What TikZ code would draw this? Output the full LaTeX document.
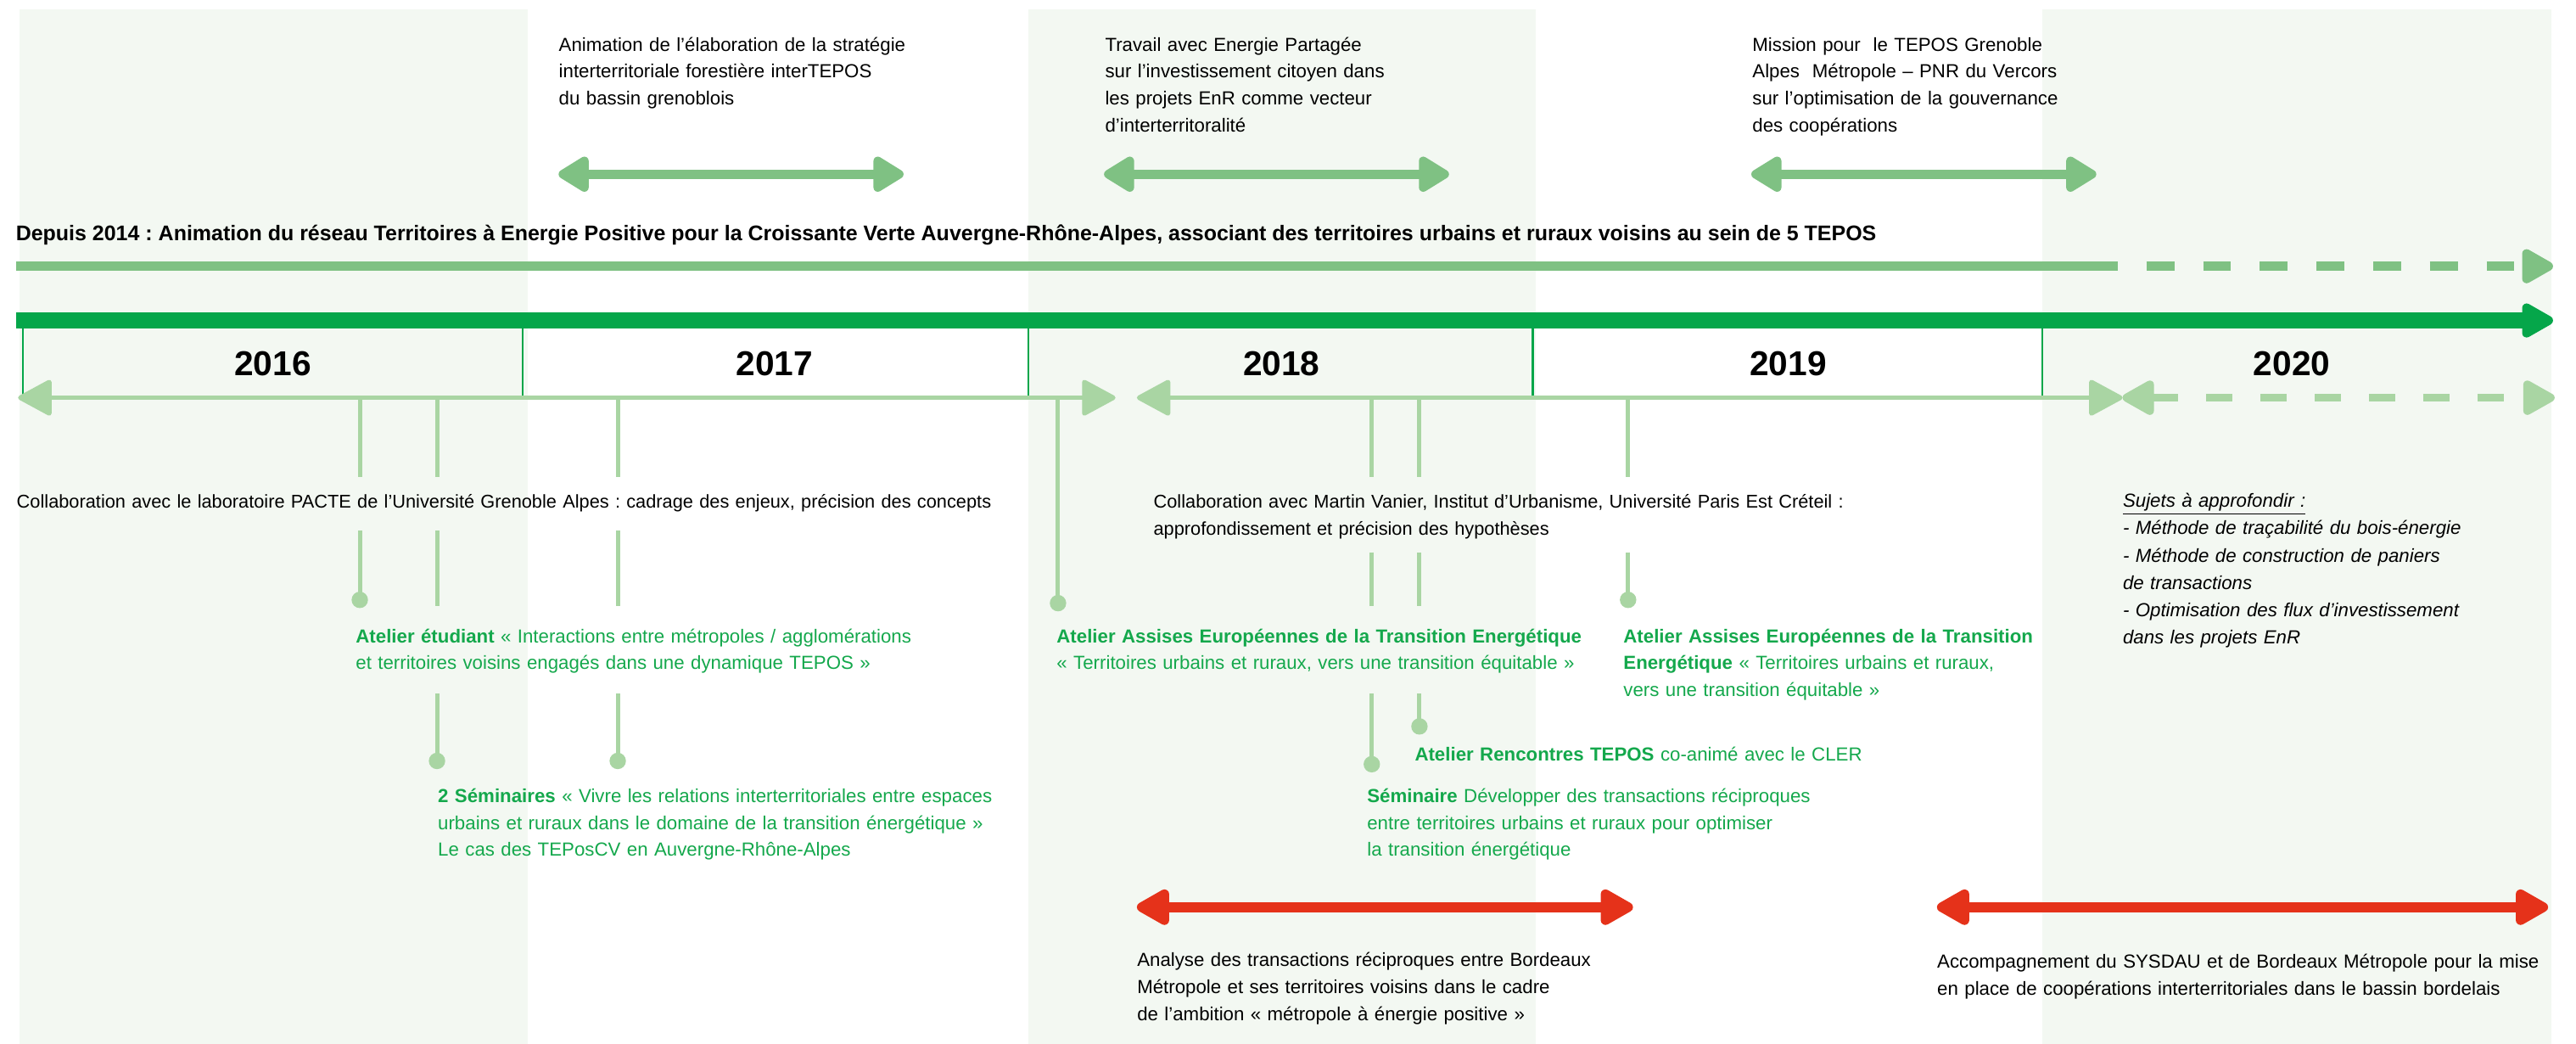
\documentclass[tikz,border=0pt]{standalone}
\usepackage{fontspec}
\setmainfont{Liberation Sans}
\usetikzlibrary{arrows.meta}
\frenchspacing
\definecolor{bgshade}{RGB}{243,248,242}
\definecolor{midgreen}{RGB}{127,193,131}
\definecolor{lightgreen}{RGB}{169,213,163}
\definecolor{bargreen}{RGB}{5,166,74}
\definecolor{txtgreen}{RGB}{20,168,76}
\definecolor{redarrow}{RGB}{229,50,26}
\tikzset{
  bodytext/.style={inner sep=0pt, anchor=base west, align=left, text width=700pt,
    font=\fontsize{11.5}{16.4}\selectfont},
  narrowtext/.style={bodytext, font=\fontsize{11.25}{16.4}\selectfont},
  greentext/.style={bodytext, text=txtgreen},
  headtext/.style={inner sep=0pt, anchor=base west, font=\fontsize{12.9}{15}\selectfont\bfseries},
  yeartext/.style={inner sep=0pt, anchor=base, font=\fontsize{21}{24}\selectfont\bfseries},
  toparrow/.style={draw=midgreen, line width=5.5pt, {Triangle[length=21pt,width=24pt,round]}-{Triangle[length=21pt,width=24pt,round]}},
  lowarrow/.style={draw=lightgreen, line width=2.8pt, {Triangle[length=22pt,width=23pt,round]}-{Triangle[length=22pt,width=23pt,round]}},
  redarrowstyle/.style={draw=redarrow, line width=6pt, {Triangle[length=23pt,width=24pt,round]}-{Triangle[length=23pt,width=24pt,round]}},
  yearsep/.style={draw=bargreen, line width=1.2pt},
  conn/.style={draw=lightgreen, line width=2.6pt},
  dotstyle/.style={fill=lightgreen}
}
\begin{document}
\begin{tikzpicture}[x=1pt,y=-1pt]
\useasboundingbox (0,0) rectangle (1568,635);
\fill[white] (0,0) rectangle (1568,635);
% shaded year columns
\fill[bgshade] (12,5.7) rectangle (321,635);
\fill[bgshade] (626,5.7) rectangle (935,635);
\fill[bgshade] (1243,5.7) rectangle (1553,635);

% top texts
\node[bodytext] (t1) at (340,31) {Animation de l’élaboration de la stratégie\\interterritoriale forestière interTEPOS\\du bassin grenoblois};
\node[bodytext] (t2) at (672.5,31) {Travail avec Energie Partagée\\sur l’investissement citoyen dans\\les projets EnR comme vecteur\\d’interterritoralité};
\node[bodytext] (t3) at (1066.5,31) {Mission pour\ \ le TEPOS Grenoble\\Alpes\ \ Métropole – PNR du Vercors\\sur l’optimisation de la gouvernance\\des coopérations};

% top arrows
\coordinate (a1l) at (340,106); \coordinate (a1r) at (550,106);
\coordinate (a2l) at (672,106); \coordinate (a2r) at (882,106);
\coordinate (a3l) at (1066,106); \coordinate (a3r) at (1276,106);
\draw[toparrow] (a1l) -- (a1r);
\draw[toparrow] (a2l) -- (a2r);
\draw[toparrow] (a3l) -- (a3r);

% heading
\node[headtext] (head) at (9.5,146.3) {Depuis 2014 : Animation du réseau Territoires à Energie Positive pour la Croissante Verte Auvergne-Rhône-Alpes, associant des territoires urbains et ruraux voisins au sein de 5 TEPOS};
\coordinate (h0) at (10,162); \coordinate (h1) at (1272,162); \coordinate (h2) at (1554,162);
\draw[draw=midgreen, line width=5.5pt] (h0) -- (h1);
\draw[draw=midgreen, line width=5.5pt, dash pattern=on 17pt off 17.5pt, -{Triangle[length=22pt,width=23pt,round]}] (h1) -- (h2);

% main bar
\coordinate (b0) at (10,195); \coordinate (b1) at (1554,195);
\draw[draw=bargreen, line width=10pt, -{Triangle[length=22pt,width=23pt,round]}] (b0) -- (b1);

% year separators
\foreach \x/\n in {14/s0,318/s1,626/s2,933/s3,1243/s4}{
  \coordinate (\n t) at (\x,200); \coordinate (\n b) at (\x,242);
  \draw[yearsep] (\n t) -- (\n b);
}
\node[yeartext] (y16) at (166,228.5) {2016};
\node[yeartext] (y17) at (471.5,228.5) {2017};
\node[yeartext] (y18) at (780,228.5) {2018};
\node[yeartext] (y19) at (1088.5,228.5) {2019};
\node[yeartext] (y20) at (1395,228.5) {2020};

% lower arrows
\coordinate (l1a) at (11,242); \coordinate (l1b) at (679,242);
\coordinate (l2a) at (692,242); \coordinate (l2b) at (1292,242);
\coordinate (l3a) at (1292,242); \coordinate (l3b) at (1555,242);
\draw[lowarrow] (l1a) -- (l1b);
\draw[lowarrow] (l2a) -- (l2b);
\draw[lowarrow, line width=5pt, dash pattern=on 16pt off 17pt] (l3a) -- (l3b);

% connectors
\foreach \x/\n in {219/c1,266/c2,376/c3,835/c5,864/c6,991/c7}{
  \coordinate (\n a) at (\x,243); \coordinate (\n b) at (\x,290);
  \draw[conn] (\n a) -- (\n b);
}
\coordinate (c1c) at (219,323); \coordinate (c1d) at (219,365);
\draw[conn] (c1c) -- (c1d); \fill[dotstyle] (c1d) circle (5pt);
\foreach \x/\n in {266/c2,376/c3}{
  \coordinate (\n c) at (\x,323); \coordinate (\n d) at (\x,369);
  \coordinate (\n e) at (\x,422); \coordinate (\n f) at (\x,463);
  \draw[conn] (\n c) -- (\n d);
  \draw[conn] (\n e) -- (\n f); \fill[dotstyle] (\n f) circle (5pt);
}
\coordinate (c4a) at (644,243); \coordinate (c4d) at (644,367);
\draw[conn] (c4a) -- (c4d); \fill[dotstyle] (c4d) circle (5pt);
\coordinate (c5c) at (835,336); \coordinate (c5d) at (835,369);
\coordinate (c5e) at (835,422); \coordinate (c5f) at (835,465);
\draw[conn] (c5c) -- (c5d); \draw[conn] (c5e) -- (c5f); \fill[dotstyle] (c5f) circle (5pt);
\coordinate (c6c) at (864,336); \coordinate (c6d) at (864,369);
\coordinate (c6e) at (864,422); \coordinate (c6f) at (864,442);
\draw[conn] (c6c) -- (c6d); \draw[conn] (c6e) -- (c6f); \fill[dotstyle] (c6f) circle (5pt);
\coordinate (c7c) at (991,336); \coordinate (c7d) at (991,365);
\draw[conn] (c7c) -- (c7d); \fill[dotstyle] (c7d) circle (5pt);

% middle texts
\node[narrowtext] (collab1) at (10,309) {Collaboration avec le laboratoire PACTE de l’Université Grenoble Alpes : cadrage des enjeux, précision des concepts};
\node[narrowtext] (collab2) at (702,309) {Collaboration avec Martin Vanier, Institut d’Urbanisme, Université Paris Est Créteil :\\approfondissement et précision des hypothèses};
\node[greentext] (atelier1) at (216.4,391) {\textbf{Atelier étudiant} « Interactions entre métropoles / agglomérations\\et territoires voisins engagés dans une dynamique TEPOS »};
\node[greentext] (semi1) at (266.4,488.3) {\textbf{2 Séminaires} « Vivre les relations interterritoriales entre espaces\\urbains et ruraux dans le domaine de la transition énergétique »\\Le cas des TEPosCV en Auvergne-Rhône-Alpes};
\node[greentext] (assises1) at (643,391) {\textbf{Atelier Assises Européennes de la Transition Energétique}\\« Territoires urbains et ruraux, vers une transition équitable »};
\node[greentext] (assises2) at (988,391) {\textbf{Atelier Assises Européennes de la Transition}\\\textbf{Energétique} « Territoires urbains et ruraux,\\vers une transition équitable »};
\node[greentext] (rencontres) at (861,463) {\textbf{Atelier Rencontres TEPOS} co-animé avec le CLER};
\node[greentext] (semi2) at (832,488.3) {\textbf{Séminaire} Développer des transactions réciproques\\entre territoires urbains et ruraux pour optimiser\\la transition énergétique};
\node[bodytext, font=\fontsize{11.5}{16.6}\selectfont\itshape] (sujets) at (1292,308.7) {\underline{Sujets à approfondir :}\\- Méthode de traçabilité du bois-énergie\\- Méthode de construction de paniers\\de transactions\\- Optimisation des flux d’investissement\\dans les projets EnR};

% red arrows
\coordinate (r1a) at (692,552); \coordinate (r1b) at (994,552);
\coordinate (r2a) at (1179,552); \coordinate (r2b) at (1551,552);
\draw[redarrowstyle] (r1a) -- (r1b);
\draw[redarrowstyle] (r2a) -- (r2b);
\node[bodytext] (analyse) at (692,588) {Analyse des transactions réciproques entre Bordeaux\\Métropole et ses territoires voisins dans le cadre\\de l’ambition « métropole à énergie positive »};
\node[bodytext] (accomp) at (1179,589) {Accompagnement du SYSDAU et de Bordeaux Métropole pour la mise\\en place de coopérations interterritoriales dans le bassin bordelais};
\end{tikzpicture}
\end{document}
